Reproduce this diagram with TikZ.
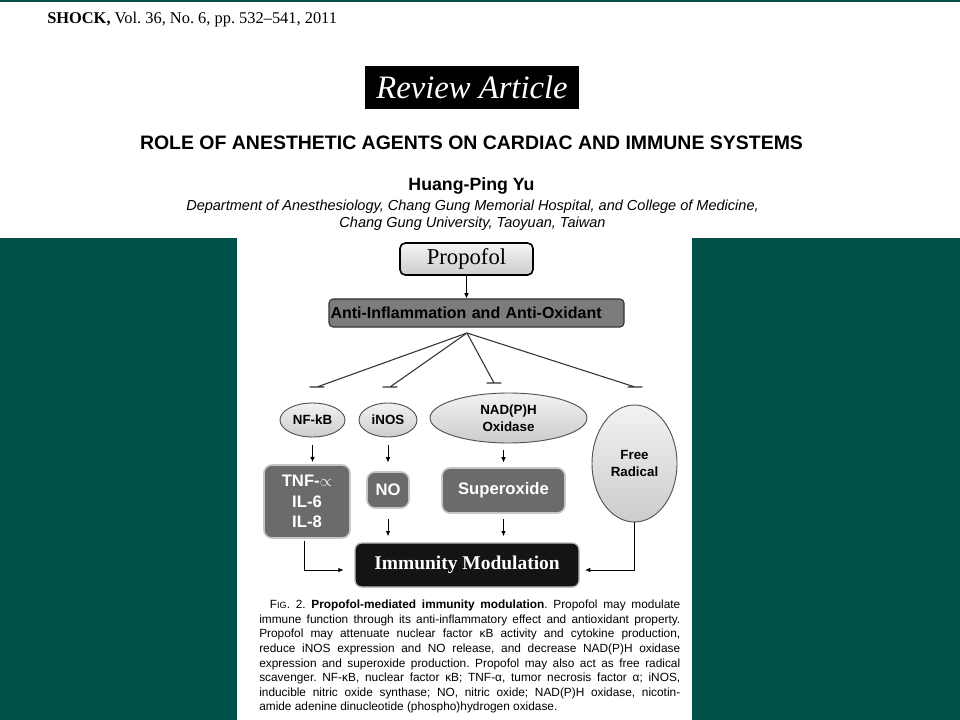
\documentclass[tikz,border=0pt]{standalone}
\usepackage{fontspec}
\setmainfont{Liberation Serif}
\setsansfont{Liberation Sans}
\usepackage{xcolor}
\usetikzlibrary{arrows.meta,shapes.geometric}
\definecolor{slidegreen}{HTML}{00504A}
\definecolor{boxgray}{HTML}{6B6B6B}
\definecolor{antigray}{HTML}{7C7C7C}
\definecolor{linegray}{HTML}{333333}
\frenchspacing

\tikzset{
  propbox/.style={rectangle, rounded corners=4pt, draw=black, line width=1.2pt,
    top color=gray!8, bottom color=gray!40, minimum width=99.75pt, minimum height=24pt,
    font=\fontsize{17}{18}\selectfont},
  antibox/.style={rectangle, rounded corners=3pt, draw=linegray, line width=0.8pt,
    fill=antigray, minimum width=221.25pt, minimum height=21pt, text width=219pt,
    inner xsep=1pt, align=left, font=\sffamily\bfseries\fontsize{12}{14}\selectfont},
  softball/.style={ellipse, draw=gray!65!black, line width=0.7pt, top color=gray!10,
    bottom color=gray!40, inner sep=0pt, align=center,
    font=\sffamily\bfseries\fontsize{10}{12.5}\selectfont},
  darkbox/.style={rectangle, rounded corners=6pt, fill=boxgray, draw=gray!45,
    line width=1.2pt, text=white, inner sep=0pt, align=center,
    font=\sffamily\bfseries\fontsize{12.5}{15.5}\selectfont},
  down/.style={-{Latex[length=4pt,width=3.5pt]}, line width=0.7pt, draw=black},
  inhibit/.style={line width=0.8pt, draw=linegray},
}

\begin{document}
\begin{tikzpicture}[x=0.75pt,y=-0.75pt]
    \useasboundingbox (0,0) rectangle (960,720);

    % slide background
    \fill[white] (0,0) rectangle (960,720);
    \fill[slidegreen] (0,0) rectangle (960,2);
    \fill[slidegreen] (0,238) rectangle (237,720);
    \fill[slidegreen] (692,238) rectangle (960,720);

    % article header
    \node[anchor=base west, inner sep=0pt, font=\fontsize{12.3}{14}\selectfont]
        (journal) at (47,24) {\textbf{SHOCK,} Vol. 36, No. 6, pp. 532--541, 2011};
    \node[fill=black, text=white, minimum width=160.5pt, minimum height=32.25pt,
          font=\itshape\fontsize{24.5}{28}\selectfont]
        (review) at (472,87.5) {Review Article};
    \node[anchor=base, inner sep=0pt, font=\sffamily\bfseries\fontsize{14.6}{16}\selectfont]
        (title) at (471.5,150) {ROLE OF ANESTHETIC AGENTS ON CARDIAC AND IMMUNE SYSTEMS};
    \node[anchor=base, inner sep=0pt, font=\sffamily\bfseries\fontsize{13.3}{15}\selectfont]
        (author) at (471.5,191) {Huang-Ping Yu};
    \node[anchor=base, inner sep=0pt, font=\sffamily\itshape\fontsize{10.9}{12}\selectfont]
        (dept) at (472.5,211) {Department of Anesthesiology, Chang Gung Memorial Hospital, and College of Medicine,};
    \node[anchor=base, inner sep=0pt, font=\sffamily\itshape\fontsize{10.9}{12}\selectfont]
        (univ) at (472.5,228) {Chang Gung University, Taoyuan, Taiwan};

    % Propofol and its effect
    \node[propbox] (propofol) at (466.5,259) {Propofol};
    \node[antibox] (anti) at (476.5,313) {Anti-Inflammation and Anti-Oxidant};
    \draw[down] (propofol) -- (propofol |- anti.north);

    % inhibition fan
    \coordinate (fan) at (467,333);
    \coordinate (bnfkb) at (317,387);
    \coordinate (binos) at (390,387);
    \coordinate (bnadph) at (494,383);
    \coordinate (bfree) at (635,387);
    \foreach \b in {bnfkb,binos,bnadph,bfree}
        \draw[inhibit] (fan) -- (\b) ([xshift=-5.6pt]\b) -- ([xshift=5.6pt]\b);

    % targets
    \node[softball, minimum width=48.75pt, minimum height=25.5pt] (nfkb) at (312.5,420) {NF-kB};
    \node[softball, minimum width=43.5pt, minimum height=25.5pt] (inos) at (388,420) {iNOS};
    \node[softball, minimum width=117.75pt, minimum height=37.5pt] (nadph) at (508.5,418) {NAD(P)H\\Oxidase};
    \node[softball, minimum width=63.75pt, minimum height=87.75pt] (free) at (634.5,463.5) {Free\\Radical};

    % products
    \node[darkbox, minimum width=64.5pt, minimum height=54.75pt] (tnf) at (307,501.5)
        {TNF-$\propto$\\IL-6\\IL-8};
    \node[darkbox, minimum width=31.5pt, minimum height=27pt] (no) at (388,490) {NO};
    \node[darkbox, minimum width=92.25pt, minimum height=33.75pt] (sup) at (503.5,490.5) {Superoxide};

    % outcome
    \node[rectangle, rounded corners=5pt, fill=black!92, draw=gray!55, line width=1pt,
          minimum width=168pt, minimum height=33pt, text=white,
          font=\bfseries\fontsize{14.6}{16}\selectfont] (imm) at (467,565) {Immunity Modulation};

    % arrows
    \draw[down, shorten <=6pt, shorten >=1.5pt] (nfkb.south) -- (nfkb.south |- tnf.north);
    \draw[down, shorten <=6pt, shorten >=6.5pt] (inos.south) -- (inos.south |- no.north);
    \draw[down, shorten <=5pt, shorten >=3.5pt] (sup.north |- nadph.south) -- (sup.north);
    \draw[down, shorten <=7.5pt, shorten >=4.5pt] (no.south) -- (no.south |- imm.north);
    \draw[down, shorten <=4pt, shorten >=4.5pt] (sup.south) -- (sup.south |- imm.north);
    \draw[down, shorten <=1.5pt, shorten >=8pt] ([xshift=-2.25pt]tnf.south) |- ([yshift=-3.75pt]imm.west);
    \draw[down, shorten >=4pt] (free.south) |- ([yshift=-3.75pt]imm.east);

    % figure caption
    \node[anchor=north west, inner sep=0pt, text width=315.75pt, align=justify,
          font=\sffamily\fontsize{8.9}{10.9}\selectfont] (caption) at (259,600)
        {\hyphenpenalty=10000\exhyphenpenalty=10000
         \hspace*{8pt}F{\fontsize{6.8}{10.9}\selectfont IG}. 2.\ \textbf{Propofol-mediated immunity modulation}. Propofol may modulate\linebreak
         immune function through its anti-inflammatory effect and antioxidant property.\linebreak
         Propofol may attenuate nuclear factor κB activity and cytokine production,\linebreak
         reduce iNOS expression and NO release, and decrease NAD(P)H oxidase\linebreak
         expression and superoxide production. Propofol may also act as free radical\linebreak
         scavenger. NF-κB, nuclear factor κB; TNF-α, tumor necrosis factor α; iNOS,\linebreak
         inducible nitric oxide synthase; NO, nitric oxide; NAD(P)H oxidase, nicotin-\linebreak
         amide adenine dinucleotide (phospho)hydrogen oxidase.};
\end{tikzpicture}
\end{document}
